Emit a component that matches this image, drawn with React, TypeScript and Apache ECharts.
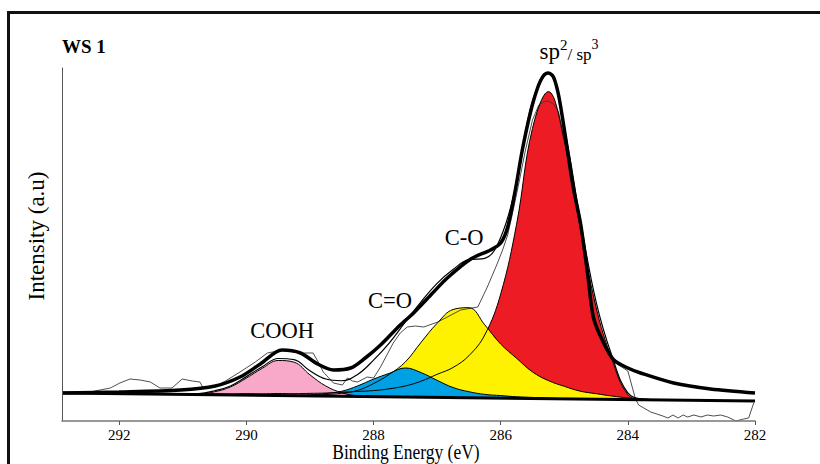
import React, { useEffect, useRef } from "react";
import * as echarts from "echarts";

// ---- data (binding energy in eV, intensity in arbitrary units) ----
const xTicks = [282, 284, 286, 288, 290, 292];

// linear background end points
const bgEnergy = [292.9, 282.0];
const bgIntensity = [28, 20];

// common energy grid for the fitted components
const energyGrid = [
  291.0, 290.75, 290.5, 290.25, 290.0, 289.75, 289.5, 289.25, 289.0, 288.75,
  288.5, 288.25, 288.0, 287.75, 287.5, 287.25, 287.0, 286.75, 286.5, 286.25,
  286.0, 285.75, 285.5, 285.25, 285.0, 284.75, 284.5, 284.25, 284.0, 283.75, 283.5,
];

// component heights above the background
const coohPeak = [0, 0.5, 3, 8, 17, 27, 35, 33.5, 21, 10, 3.5, 0.5, 0, 0, 0, 0, 0, 0, 0, 0, 0, 0, 0, 0, 0, 0, 0, 0, 0, 0, 0];
const cdoPeak = [0, 0, 0, 0, 0, 0, 0, 0.5, 1, 2.5, 5, 10.5, 17.5, 23.5, 29, 24.5, 17, 10, 6, 3.5, 2.5, 1.5, 1, 0.5, 0, 0, 0, 0, 0, 0, 0];
const coPeak = [0, 0, 0, 0, 0, 0, 0, 0, 0.5, 1.5, 3, 6, 13, 22.5, 35, 55, 74, 88, 90, 73, 54, 40, 26.5, 18, 12.5, 7.8, 5.5, 3.3, 1.6, 0.5, 0];
const spPeak = [0.5, 0.5, 1, 1, 1.5, 1.5, 2, 2, 2.5, 3, 4, 5, 6, 8, 11, 16, 23, 30, 42, 63, 104, 174, 270, 307, 258, 172, 92, 40, 5, 0, 0];

// smoothed experimental envelope
const envelopeEnergy = [
  292.9, 292.0, 291.04, 290.49, 290.1, 289.78, 289.44, 289.15, 288.88, 288.63,
  288.36, 288.13, 287.89, 287.58, 287.37, 287.1, 286.84, 286.47, 286.16, 286.0,
  285.89, 285.77, 285.66, 285.53, 285.42, 285.33, 285.25, 285.17, 285.09, 285.01,
  284.95, 284.85, 284.74, 284.63, 284.54, 284.38, 284.22, 284.0, 283.8, 283.28,
  282.7, 282.0,
];
const envelopeIntensity = [
  28, 29, 31, 35, 44, 57, 71, 68, 57, 51,
  53, 63, 76, 96, 108, 126, 143, 162, 171, 178,
  194, 231, 271, 309, 333, 345, 348, 344, 326, 296,
  271, 231, 196, 146, 103, 78, 61, 53, 48, 38,
  32, 28,
];

// raw spectrum
const rawEnergy = [
  292.9, 292.46, 292.14, 291.99, 291.83, 291.67, 291.51, 291.36, 291.17, 291.01,
  290.85, 290.73, 290.68, 290.52, 290.33, 290.1, 289.86, 289.67, 289.42, 289.26,
  289.1, 288.95, 288.87, 288.79, 288.63, 288.49, 288.41, 288.33, 288.25, 288.1,
  288.0, 287.89, 287.69, 287.58, 287.47, 287.34, 287.21, 286.99, 286.84, 286.63,
  286.36, 286.21, 286.05, 285.97, 285.89, 285.81, 285.72, 285.61, 285.5, 285.4,
  285.33, 285.25, 285.17, 285.09, 285.01, 284.9, 284.74, 284.59, 284.43, 284.22,
  284.0, 283.88, 283.83, 283.64, 283.45, 283.37, 283.29, 283.21, 283.13, 283.06,
  282.96, 282.85, 282.75, 282.65, 282.54, 282.43, 282.3, 282.18, 282.1, 282.02,
];
const rawIntensity = [
  28, 29, 33, 38, 42, 41, 39, 33, 33, 42,
  40, 39, 33, 34, 40, 49, 59, 68, 71, 69,
  68, 68, 59, 49, 38, 36, 43, 40, 39, 44,
  43, 54, 78, 88, 94, 95, 94, 99, 104, 111,
  114, 134, 158, 171, 186, 209, 236, 271, 301, 316,
  319, 320, 317, 309, 286, 241, 191, 121, 82, 59,
  50, 22, 16, 9, 5, 3, 6, 3, 6, 4,
  6, 4, 6, 5, 6, 4, 0, 2, 3, 18,
];

const SERIF = '"Liberation Serif", "Times New Roman", serif';

function bgAt(e: number): number {
  return bgIntensity[0] + ((e - bgEnergy[0]) * (bgIntensity[1] - bgIntensity[0])) / (bgEnergy[1] - bgEnergy[0]);
}

export default function App() {
  const ref = useRef<HTMLDivElement>(null);

  useEffect(() => {
    document.body.style.margin = "0";
    if (!ref.current) return;
    const chart = echarts.init(ref.current, undefined, { renderer: "svg" });

    const components = [
      { name: "sp2/sp3", values: spPeak, color: "#ED1C24" },
      { name: "C-O", values: coPeak, color: "#FFF200" },
      { name: "C=O", values: cdoPeak, color: "#00A0E4" },
      { name: "COOH", values: coohPeak, color: "#F8A8C8" },
    ];

    const series: any[] = [];
    components.forEach((c) => {
      series.push({
        type: "line",
        name: c.name,
        data: energyGrid.map((e, k) => [e, bgAt(e) + c.values[k]]),
        symbol: "none",
        smooth: 0.4,
        lineStyle: { opacity: 0, width: 0 },
        areaStyle: { color: c.color, opacity: 1 },
        silent: true,
        z: 2,
      });
    });
    series.push({
      type: "line",
      name: "below background",
      data: bgEnergy.map((e, k) => [e, bgIntensity[k]]),
      symbol: "none",
      lineStyle: { opacity: 0, width: 0 },
      areaStyle: { color: "#fff", opacity: 1 },
      silent: true,
      z: 2,
    });
    series.push({
      type: "line",
      name: "raw",
      data: rawEnergy.map((e, k) => [e, rawIntensity[k]]),
      symbol: "none",
      lineStyle: { color: "#3a3a3a", width: 0.9 },
      silent: true,
      z: 3,
    });
    components.forEach((c) => {
      series.push({
        type: "line",
        name: c.name + " outline",
        data: energyGrid.map((e, k) => [e, bgAt(e) + c.values[k]]),
        symbol: "none",
        smooth: 0.4,
        lineStyle: { color: "#000", width: 1 },
        silent: true,
        z: 4,
      });
    });
    series.push({
      type: "line",
      name: "fit sum",
      data: energyGrid.map((e, k) => [
        e,
        bgAt(e) + components.reduce((s, c) => s + c.values[k], 0),
      ]),
      symbol: "none",
      smooth: 0.4,
      lineStyle: { color: "#000", width: 1.2 },
      silent: true,
      z: 5,
    });
    series.push({
      type: "line",
      name: "envelope",
      data: envelopeEnergy.map((e, k) => [e, envelopeIntensity[k]]),
      symbol: "none",
      smooth: 0.3,
      lineStyle: { color: "#000", width: 3.5 },
      silent: true,
      z: 6,
    });
    series.push({
      type: "line",
      name: "background",
      data: bgEnergy.map((e, k) => [e, bgIntensity[k]]),
      symbol: "none",
      lineStyle: { color: "#000", width: 3 },
      silent: true,
      z: 6,
    });

    const textStyle = (text: string, size: number, extra: any = {}) => ({
      text,
      fill: "#000",
      font: `${size}px ${SERIF}`,
      fontSize: size,
      fontFamily: SERIF,
      align: "center",
      verticalAlign: "middle",
      textAlign: "center",
      textVerticalAlign: "middle",
      ...extra,
    });

    chart.setOption({
      animation: false,
      backgroundColor: "#fff",
      grid: { left: 62, right: 65, top: 68, bottom: 43 },
      xAxis: {
        type: "value",
        min: 282,
        max: 292.9,
        interval: 2,
        inverse: true,
        z: 10,
        axisLine: { show: true, onZero: false, lineStyle: { color: "#777", width: 1.5 } },
        axisTick: { show: true, length: 4, lineStyle: { color: "#555", width: 1 }, customValues: xTicks },
        axisLabel: {
          show: true,
          customValues: xTicks,
          color: "#000",
          fontSize: 15,
          fontFamily: SERIF,
          margin: 6,
        },
        splitLine: { show: false },
      },
      yAxis: {
        type: "value",
        min: 0,
        max: 353,
        z: 10,
        axisLine: { show: true, onZero: false, lineStyle: { color: "#555", width: 1 } },
        axisTick: { show: false },
        axisLabel: { show: false },
        splitLine: { show: false },
      },
      graphic: [
        {
          type: "polyline",
          shape: { points: [[8.5, 470], [8.5, 12.5], [830, 12.5]] },
          style: { stroke: "#111", lineWidth: 3, fill: "none" },
          silent: true,
        },
        {
          type: "text",
          x: 62,
          y: 46,
          style: textStyle("WS 1", 19, { fontWeight: "bold", font: `bold 19px ${SERIF}`, align: "left", textAlign: "left" }),
        },
        {
          type: "text",
          x: 569,
          y: 50,
          style: textStyle("{a|sp}{b|2}{c|/ sp}{d|3}", 22, {
            rich: {
              a: { fontSize: 23, fontFamily: SERIF, verticalAlign: "bottom", lineHeight: 26 },
              b: { fontSize: 15, fontFamily: SERIF, verticalAlign: "top", lineHeight: 26 },
              c: { fontSize: 17, fontFamily: SERIF, verticalAlign: "bottom", lineHeight: 25 },
              d: { fontSize: 14, fontFamily: SERIF, verticalAlign: "top", lineHeight: 26 },
            },
          }),
        },
        { type: "text", x: 282, y: 330, style: textStyle("COOH", 22.5) },
        { type: "text", x: 390, y: 300, style: textStyle("C=O", 22.5) },
        { type: "text", x: 464, y: 237, style: textStyle("C-O", 22.5) },
        {
          type: "text",
          x: 406,
          y: 452,
          scaleY: 1.2,
          style: textStyle("Binding Energy (eV)", 17.5),
        },
        {
          type: "text",
          x: 36,
          y: 236,
          rotation: Math.PI / 2,
          style: textStyle("Intensity (a.u)", 23),
        },
      ],
      series,
    });

    return () => chart.dispose();
  }, []);

  return <div ref={ref} style={{ width: 820, height: 464, overflow: "hidden" }} />;
}
